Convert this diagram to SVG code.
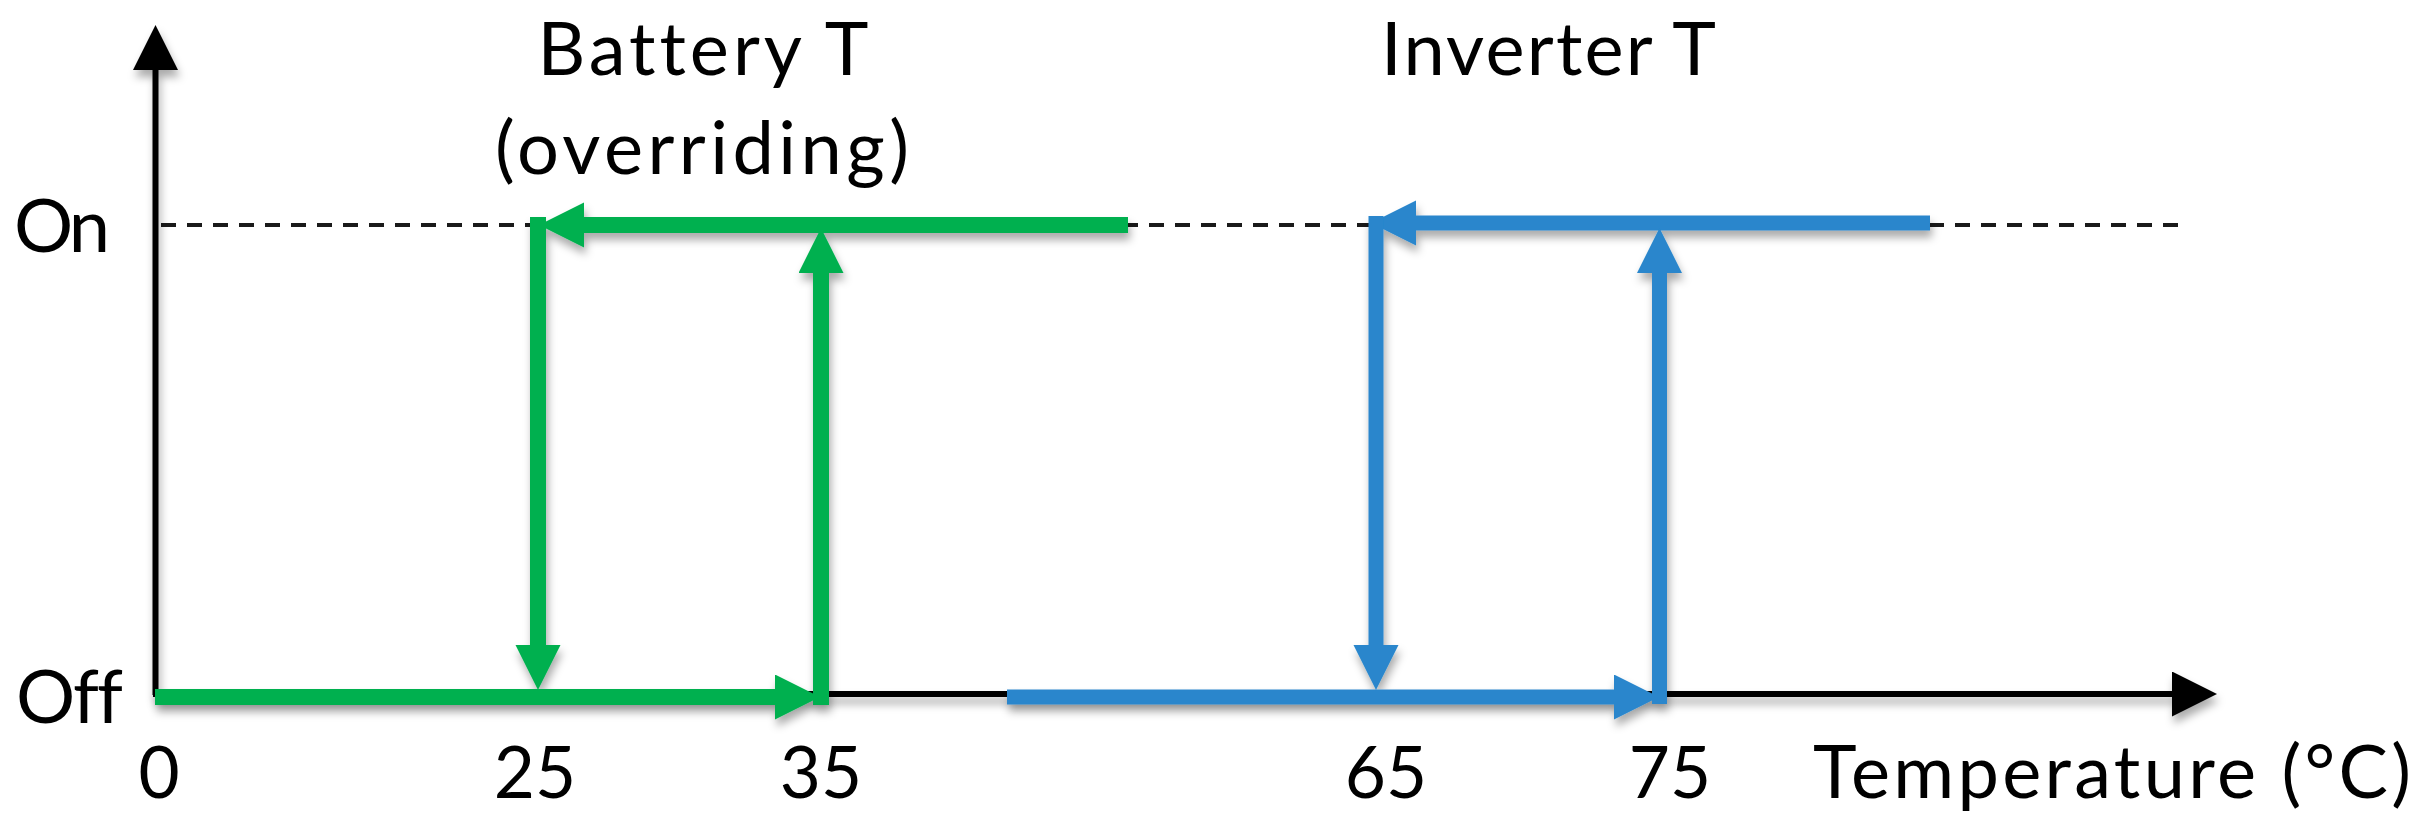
<svg xmlns="http://www.w3.org/2000/svg" width="2424" height="829" viewBox="0 0 2424 829">
<defs>
<style>
.txt{font-family:Lato,"Open Sans","Liberation Sans",sans-serif;fill:#000;font-variant-ligatures:none;font-feature-settings:"liga" 0,"clig" 0,"dlig" 0;}
.lab{font-size:74px;}
.num{font-size:71px;text-anchor:middle;}
.axis{stroke:#000;stroke-width:6;fill:none;}
.g{stroke:#00B050;stroke-width:16;fill:none;}
.b{stroke:#2986CC;stroke-width:15;fill:none;}
.dash{stroke:#1a1a1a;stroke-width:4;stroke-dasharray:15 11;fill:none;}
</style>
<filter id="sh" x="-5%" y="-20%" width="110%" height="150%">
<feDropShadow dx="2" dy="7" stdDeviation="4" flood-color="#000" flood-opacity="0.33"/>
</filter>
<marker id="ak" markerUnits="userSpaceOnUse" markerWidth="46" markerHeight="46" refX="1" refY="22.5" orient="auto" viewBox="0 0 46 46">
<path d="M0,0 L45,22.5 L0,45 z" fill="#000"/>
</marker>
<marker id="ag" markerUnits="userSpaceOnUse" markerWidth="46" markerHeight="46" refX="1" refY="22.5" orient="auto" viewBox="0 0 46 46">
<path d="M0,0 L45,22.5 L0,45 z" fill="#00B050"/>
</marker>
<marker id="ab" markerUnits="userSpaceOnUse" markerWidth="46" markerHeight="46" refX="1" refY="22.5" orient="auto" viewBox="0 0 46 46">
<path d="M0,0 L45,22.5 L0,45 z" fill="#2986CC"/>
</marker>
</defs>
<rect width="2424" height="829" fill="#fff"/>
<g id="on-level">
<line class="dash" x1="161" y1="225" x2="2186" y2="225"/>
</g>
<g id="axes" filter="url(#sh)">
<line class="axis" x1="155.5" y1="695" x2="155.5" y2="69" marker-end="url(#ak)"/>
<line class="axis" x1="153" y1="694" x2="2173" y2="694" marker-end="url(#ak)"/>
</g>
<g id="connectors">
<g id="battery-loop" filter="url(#sh)">
<line class="g" x1="1128" y1="225" x2="583" y2="225" marker-end="url(#ag)"/>
<line class="g" x1="538" y1="217" x2="538" y2="646" marker-end="url(#ag)"/>
<line class="g" x1="155" y1="697" x2="776" y2="697" marker-end="url(#ag)"/>
<line class="g" x1="821" y1="705" x2="821" y2="272" marker-end="url(#ag)"/>
</g>
<g id="inverter-loop" filter="url(#sh)">
<line class="b" x1="1930" y1="223" x2="1415" y2="223" marker-end="url(#ab)"/>
<line class="b" x1="1376" y1="216" x2="1376" y2="646" marker-end="url(#ab)"/>
<line class="b" x1="1007" y1="697" x2="1615" y2="697" marker-end="url(#ab)"/>
<line class="b" x1="1659.5" y1="704" x2="1659.5" y2="272" marker-end="url(#ab)"/>
</g>
</g>
<g id="labels">
<text class="txt lab" x="703" y="75" text-anchor="middle" textLength="331">Battery T</text>
<text class="txt lab" x="702" y="174" text-anchor="middle" textLength="414">(overriding)</text>
<text class="txt lab" x="1381" y="75" textLength="335">Inverter T</text>
<text class="txt lab" x="14" y="252" textLength="96">On</text>
<text class="txt lab" x="16" y="723" textLength="107">Off</text>
<text class="txt num" x="159" y="798">0</text>
<text class="txt num" x="535" y="798">25</text>
<text class="txt num" x="821" y="798">35</text>
<text class="txt num" x="1386" y="798">65</text>
<text class="txt num" x="1670" y="798">75</text>
<text class="txt lab" x="1813" y="798" textLength="598">Temperature (°C)</text>
</g>
</svg>
